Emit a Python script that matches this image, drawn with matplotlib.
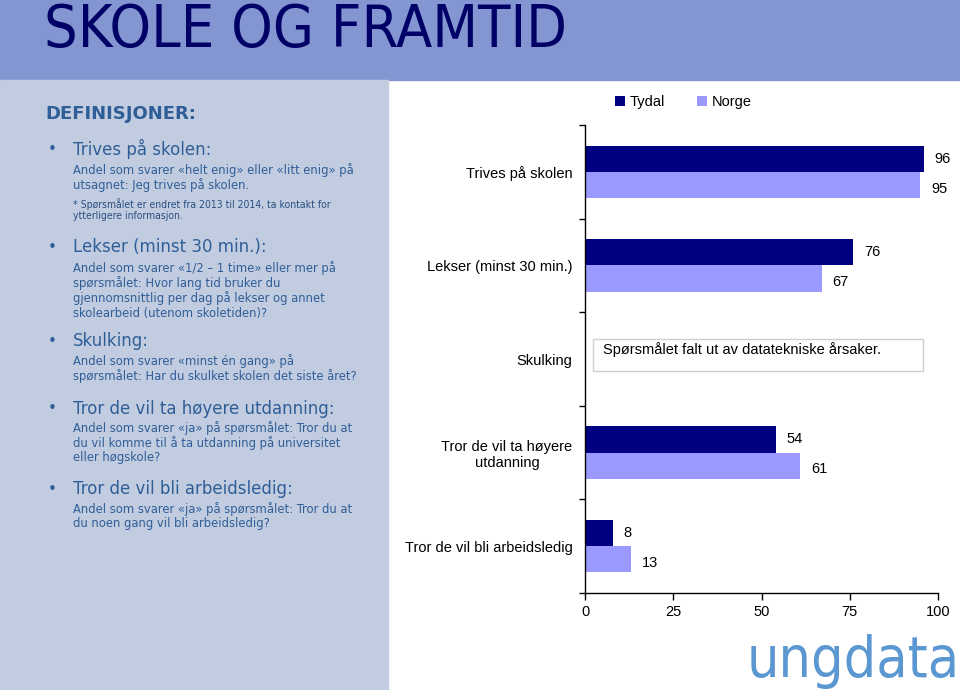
import matplotlib.pyplot as plt
from matplotlib.patches import Rectangle
import numpy as np

# data
categories = ['Trives på skolen', 'Lekser (minst 30 min.)', 'Skulking',
              'Tror de vil ta høyere\nutdanning', 'Tror de vil bli arbeidsledig']
tydal = [96, 76, np.nan, 54, 8]
norge = [95, 67, np.nan, 61, 13]
series_names = ['Tydal', 'Norge']
xticks = [0, 25, 50, 75, 100]

title = 'SKOLE OG FRAMTID'
definitions_title = 'DEFINISJONER:'
definitions = [
    ('Trives på skolen:', ['Andel som svarer «helt enig» eller «litt enig» på',
                           'utsagnet: Jeg trives på skolen.']),
    ('Lekser (minst 30 min.):', ['Andel som svarer «1/2 – 1 time» eller mer på',
                                 'spørsmålet: Hvor lang tid bruker du',
                                 'gjennomsnittlig per dag på lekser og annet',
                                 'skolearbeid (utenom skoletiden)?']),
    ('Skulking:', ['Andel som svarer «minst én gang» på',
                   'spørsmålet: Har du skulket skolen det siste året?']),
    ('Tror de vil ta høyere utdanning:', ['Andel som svarer «ja» på spørsmålet: Tror du at',
                                          'du vil komme til å ta utdanning på universitet',
                                          'eller høgskole?']),
    ('Tror de vil bli arbeidsledig:', ['Andel som svarer «ja» på spørsmålet: Tror du at',
                                       'du noen gang vil bli arbeidsledig?']),
]
trives_note = ['* Spørsmålet er endret fra 2013 til 2014, ta kontakt for',
               'ytterligere informasjon.']
missing_note = 'Spørsmålet falt ut av datatekniske årsaker.'

W, H = 960, 690


def fx(px):
    return px / W


def fy(py):
    return 1 - py / H


navy = '#000080'
lilac = '#9999FF'
text_blue = '#2F5E97'

fig = plt.figure(figsize=(9.6, 6.9), dpi=100)

# backgrounds
fig.patches.append(Rectangle((0, fy(80)), 1, 80 / H, transform=fig.transFigure,
                             color='#8396D1', zorder=0))
fig.patches.append(Rectangle((0, 0), fx(388), fy(80), transform=fig.transFigure,
                             color='#C2CCE0', zorder=0))

fig.text(fx(44), fy(47), title, fontsize=42.5, color='#000066', va='baseline',
         family='DejaVu Sans', fontstretch='condensed')

# left panel
fig.text(fx(45), fy(114), definitions_title, fontsize=13, fontweight='bold',
         color=text_blue, va='center', family='DejaVu Sans')
head_y = [149, 247, 341, 409, 489]
body_y = [170, 268, 361, 428, 509]
for (head, body), hy, by in zip(definitions, head_y, body_y):
    fig.text(fx(48), fy(hy), '•', fontsize=11, color=text_blue, va='center')
    fig.text(fx(73), fy(hy), head, fontsize=12, color=text_blue, va='center',
             family='DejaVu Sans')
    for k, line in enumerate(body):
        fig.text(fx(73), fy(by + 15 * k), line, fontsize=9.3, color=text_blue,
                 va='center', family='DejaVu Sans', fontstretch='condensed')
for k, line in enumerate(trives_note):
    fig.text(fx(73), fy(204 + 12.5 * k), line, fontsize=7.5, color='#2A4F82',
             va='center', family='DejaVu Sans', fontstretch='condensed')

# chart
ax = fig.add_axes([fx(585), fy(593), (938 - 585) / W, (593 - 125) / H])
ypos = np.arange(len(categories))
h = 0.28
ax.barh(ypos - h / 2, tydal, height=h, color=navy, label=series_names[0])
ax.barh(ypos + h / 2, norge, height=h, color=lilac, label=series_names[1])
for i, (t, n) in enumerate(zip(tydal, norge)):
    if not np.isnan(t):
        ax.text(t + 3, i - h / 2, f'{t:g}', va='center', fontsize=10.5,
                family='Liberation Sans')
    if not np.isnan(n):
        ax.text(n + 3, i + h / 2 + 0.04, f'{n:g}', va='center', fontsize=10.5,
                family='Liberation Sans')

ax.set_xlim(0, 100)
ax.set_ylim(len(categories) - 0.5, -0.5)
ax.set_xticks(xticks)
ax.set_xticklabels([str(v) for v in xticks], fontsize=10.5, family='Liberation Sans')
ax.set_yticks(ypos)
ax.set_yticklabels(categories, fontsize=10.5, family='Liberation Sans',
                   multialignment='center')
ax.set_yticks(np.arange(len(categories) + 1) - 0.5, minor=True)
ax.tick_params(axis='y', which='major', length=0, pad=9)
ax.tick_params(axis='y', which='minor', length=4, width=1)
ax.tick_params(axis='x', length=5, width=1, pad=4)
for s in ['top', 'right']:
    ax.spines[s].set_visible(False)
ax.spines['left'].set_linewidth(1)
ax.spines['bottom'].set_linewidth(1)

# note for missing question
ax.add_patch(Rectangle((2.3, 1.79), 93.4, 0.34, fc='white', ec='#D0D0D0', lw=1))
ax.text(5, 1.9, missing_note, va='center', fontsize=10.5, family='Liberation Sans')

fig.legend(loc='center', bbox_to_anchor=(fx(683), fy(102)), ncol=2, frameon=False,
           prop={'family': 'Liberation Sans', 'size': 10.5},
           handlelength=0.7, handleheight=0.7, columnspacing=2.2, handletextpad=0.3)

# logo
fig.text(fx(747), fy(677), 'ungdata', fontsize=41, color='#5B97D0', va='baseline',
         family='DejaVu Sans', fontstretch='condensed', fontweight='light')

fig.savefig('out.png', dpi=100)
